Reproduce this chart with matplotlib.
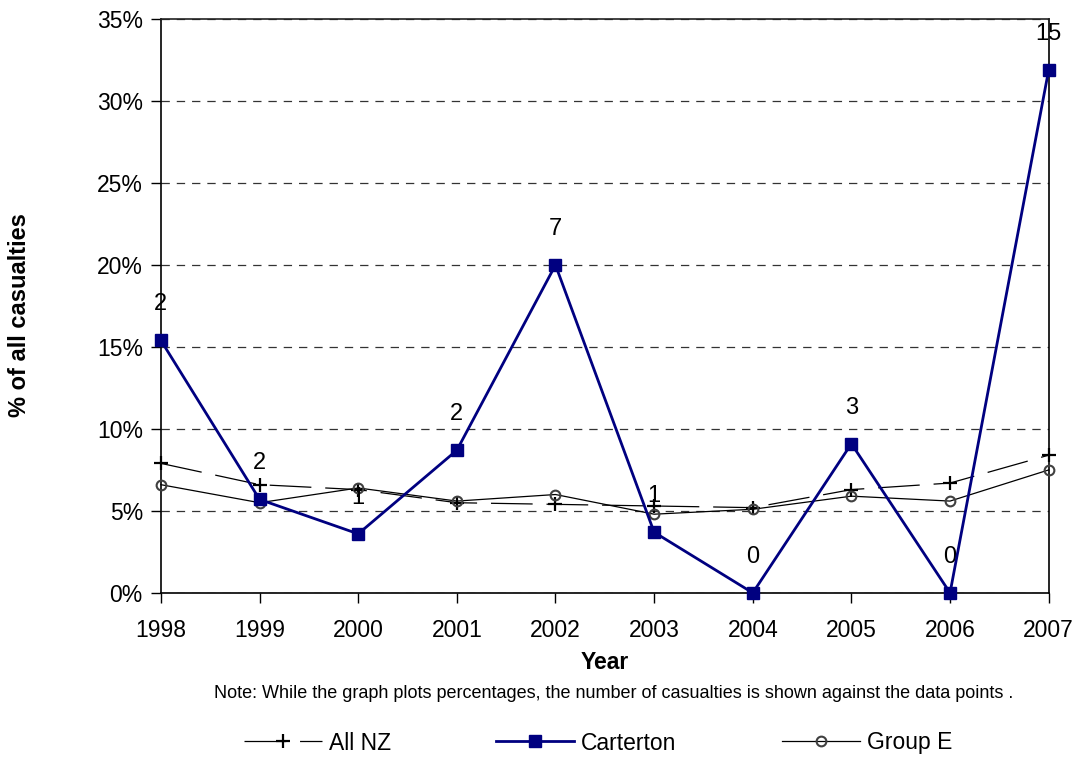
import matplotlib
matplotlib.use("Agg")
import matplotlib.pyplot as plt
from matplotlib.ticker import FuncFormatter, MultipleLocator

plt.rcParams['font.family'] = ['Liberation Sans', 'DejaVu Sans']
plt.rcParams['lines.scale_dashes'] = False

years = [1998, 1999, 2000, 2001, 2002, 2003, 2004, 2005, 2006, 2007]
all_nz = [7.9, 6.6, 6.3, 5.5, 5.4, 5.3, 5.2, 6.3, 6.7, 8.4]
carterton = [15.4, 5.7, 3.6, 8.7, 20.0, 3.7, 0.0, 9.1, 0.0, 31.9]
group_e = [6.6, 5.5, 6.4, 5.6, 6.0, 4.8, 5.1, 5.9, 5.6, 7.5]
casualties = [2, 2, 1, 2, 7, 1, 0, 3, 0, 15]

note = ("Note: While the graph plots percentages, the number of casualties "
        "is shown against the data points")

fig = plt.figure(figsize=(10.8, 7.65), dpi=100)
ax = fig.add_axes([0.149, 0.225, 0.822, 0.750])

ax.plot(years, all_nz, color='black', lw=0.9, dashes=(30, 10),
        marker='+', markersize=10, mew=1.6, label='All NZ', zorder=3,
        clip_on=False)
ax.plot(years, carterton, color='#000080', lw=2.0,
        marker='s', markersize=8, label='Carterton', zorder=4, clip_on=False)
ax.plot(years, group_e, color='black', lw=0.9, marker='o', markersize=7,
        mfc='none', mec='#404040', mew=1.5, label='Group E', zorder=3,
        clip_on=False)

# number of casualties above each Carterton point
for x, y, n in zip(years, carterton, casualties):
    ax.annotate(str(n), (x, y), xytext=(0, 26), textcoords='offset points',
                ha='center', va='center', fontsize=17)

ax.set_xlim(1998, 2007)
ax.set_ylim(0, 35)
ax.set_xticks(years)
ax.yaxis.set_major_locator(MultipleLocator(5))
ax.yaxis.set_major_formatter(FuncFormatter(lambda v, p: '%d%%' % v))
ax.tick_params(axis='both', labelsize=16.5, direction='out', length=7, width=1)
ax.tick_params(axis='x', pad=12)
ax.tick_params(axis='y', pad=6)

ax.grid(axis='y', color='#333333', ls=(0, (6, 5)), lw=0.9)
ax.set_axisbelow(True)
for s in ax.spines.values():
    s.set_linewidth(1.2)
ax.spines['top'].set_color('#222222')

ax.set_xlabel('Year', fontsize=16.5, fontweight='bold', labelpad=6)
fig.text(20 / 1080, 1 - 315 / 765, '% of all casualties', rotation=90,
         ha='center', va='center', fontsize=17, fontweight='bold')

fig.text(614 / 1080, 1 - 693 / 765, note + ' .', ha='center', va='center',
         fontsize=13)

fig.legend(loc='center', bbox_to_anchor=(598 / 1080, 1 - 743 / 765), ncol=3,
           frameon=False, fontsize=16.5, handlelength=3.4, columnspacing=4.6,
           handletextpad=0.3)

fig.savefig('out.png', dpi=100)
